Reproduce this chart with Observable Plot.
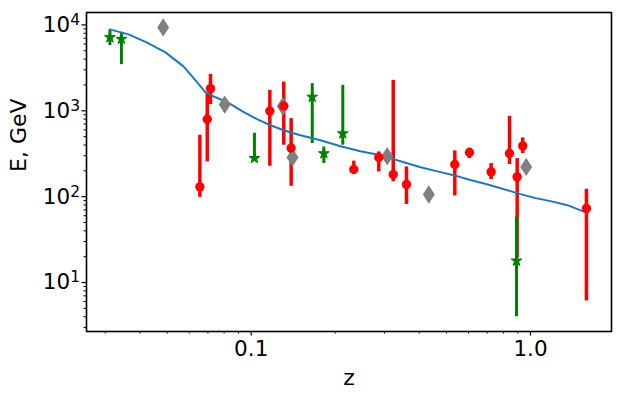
<!DOCTYPE html>
<html>
<head>
<meta charset="utf-8">
<script src="https://cdn.jsdelivr.net/npm/d3@7"></script>
<script src="https://cdn.jsdelivr.net/npm/@observablehq/plot@0.6"></script>
<style>
  html, body { margin: 0; padding: 0; background: white; }
  #chart svg { display: block; }
</style>
</head>
<body>
<div id="chart"></div>
<script>
// Red points (circles) with error bars
const redZ  = [0.0655, 0.0696, 0.0715, 0.1166, 0.1308, 0.139, 0.233, 0.2863, 0.3225, 0.3597, 0.5358, 0.6046, 0.723, 0.841, 0.896, 0.938, 1.586];
const redE  = [130, 796, 1811, 995, 1138, 369, 207, 286, 181, 139, 237, 327, 194, 318, 170, 390, 72.9];
const redLo = [98, 254, 1180, 226, 397, 132, 195, 194, 149, 81, 102, 278, 158, 237, 19.3, 318, 6.1];
const redHi = [519, 1583, 2657, 1731, 2162, 811, 259, 332, 2263, 222, 341, 367, 243, 863, 278, 483, 122];

// Green points (stars) with error bars
const greenZ  = [0.0312, 0.0343, 0.1027, 0.1654, 0.182, 0.2128, 0.891];
const greenE  = [7157, 6840, 280, 1447, 318, 543, 17.9];
const greenLo = [5727, 3443, 265, 415, 243, 397, 4.0];
const greenHi = [8630, 8185, 547, 2070, 379, 1980, 58.2];

// Gray points (thin diamonds)
const grayZ = [0.0484, 0.0804, 0.1297, 0.1406, 0.3069, 0.4324, 0.965];
const grayE = [9355, 1180, 1130, 286, 296, 106, 222];

// Model curve
const lineZ = [0.0311, 0.0364, 0.0422, 0.0493, 0.0572, 0.0632, 0.0686, 0.0745, 0.0823, 0.0931, 0.1053, 0.1172, 0.1305, 0.1501, 0.177, 0.2088, 0.2461, 0.2904, 0.3424, 0.404, 0.4762, 0.53, 0.6096, 0.719, 0.848, 0.921, 1.042, 1.179, 1.357, 1.6];
const lineE = [8866, 7755, 6258, 4786, 3291, 2263, 1641, 1436, 1256, 986, 796, 678, 593, 519, 454, 386, 338, 304, 259, 220, 193, 178, 156, 136, 116, 107, 96.1, 88.7, 79.6, 64.3];

// Axis ticks
const xTickValues = [0.1, 1];
const xTickLabels = ["0.1", "1.0"];
const xMinorTicks = [0.03, 0.04, 0.05, 0.06, 0.07, 0.08, 0.09, 0.2, 0.3, 0.4, 0.5, 0.6, 0.7, 0.8, 0.9];
const yTickValues = [10, 100, 1000, 10000];
const yTickExponents = ["1", "2", "3", "4"];
const yMinorTicks = [3, 4, 5, 6, 7, 8, 9, 20, 30, 40, 50, 60, 70, 80, 90, 200, 300, 400, 500, 600, 700, 800, 900, 2000, 3000, 4000, 5000, 6000, 7000, 8000, 9000];
const xLabel = ["z"];
const yLabel = ["E, GeV"];

const red = redZ.map((z, i) => ({z, e: redE[i], lo: redLo[i], hi: redHi[i]}));
const green = greenZ.map((z, i) => ({z, e: greenE[i], lo: greenLo[i], hi: greenHi[i]}));
const gray = grayZ.map((z, i) => ({z, e: grayE[i]}));
const model = lineZ.map((z, i) => ({z, e: lineE[i]}));

const thinDiamond = {
  draw(ctx, size) {
    const r = Math.sqrt(size / Math.PI);
    ctx.moveTo(0, -r);
    ctx.lineTo(0.65 * r, 0);
    ctx.lineTo(0, r);
    ctx.lineTo(-0.65 * r, 0);
    ctx.closePath();
  }
};

const FS = 21.5;

const chart = Plot.plot({
  width: 623,
  height: 398,
  marginLeft: 86,
  marginRight: 12,
  marginTop: 12,
  marginBottom: 67,
  style: {fontFamily: "DejaVu Sans", fontSize: FS + "px", background: "white", color: "black"},
  x: {type: "log", domain: [0.02572, 1.95]},
  y: {type: "log", domain: [2.69, 13950]},
  marks: [
    Plot.ruleX(red, {x: "z", y1: "lo", y2: "hi", stroke: "#ff0000", strokeWidth: 3.5}),
    Plot.ruleX(green, {x: "z", y1: "lo", y2: "hi", stroke: "#008000", strokeWidth: 3}),
    Plot.line(model, {x: "z", y: "e", stroke: "#1f77b4", strokeWidth: 2}),
    Plot.dot(gray, {x: "z", y: "e", symbol: thinDiamond, r: 9.2, fill: "#808080", stroke: "none"}),
    Plot.dot(red, {x: "z", y: "e", symbol: "circle", r: 4.7, fill: "#ff0000", stroke: "none"}),
    Plot.dot(green, {x: "z", y: "e", symbol: "star", r: 3.4, fill: "#008000", stroke: "#008000", strokeWidth: 1}),
    Plot.frame({stroke: "black", strokeWidth: 1.6}),
    Plot.axisX({ticks: xTickValues, tickSize: 4.5, tickPadding: 5, strokeWidth: 1.2, fontSize: FS,
      tickFormat: d => xTickLabels[xTickValues.indexOf(d)], label: null}),
    Plot.axisX({ticks: xMinorTicks, tickSize: 2.5, strokeWidth: 1, tickFormat: () => "", label: null}),
    Plot.axisY({ticks: yTickValues, tickSize: 4.5, tickPadding: 2, strokeWidth: 1.2, fontSize: FS,
      tickFormat: d => "10^" + yTickExponents[yTickValues.indexOf(d)], label: null}),
    Plot.axisY({ticks: yMinorTicks, tickSize: 2.5, strokeWidth: 1, tickFormat: () => "", label: null}),
    Plot.text(xLabel, {text: d => d, frameAnchor: "bottom", dy: 46, lineAnchor: "middle", fontSize: 22, fill: "black"}),
    Plot.text(yLabel, {text: d => d, frameAnchor: "left", dx: -68, rotate: -90, lineAnchor: "middle", fontSize: 22, fill: "black"})
  ]
});

document.getElementById("chart").appendChild(chart);

// Render "10^n" tick labels with a raised, smaller exponent
chart.querySelectorAll("text").forEach(t => {
  const s = t.textContent;
  const m = /^10\^(\d)$/.exec(s);
  if (m && t.children.length === 0) {
    t.textContent = "10";
    const sup = document.createElementNS("http://www.w3.org/2000/svg", "tspan");
    sup.setAttribute("font-size", "15.5px");
    sup.setAttribute("dy", "-7");
    sup.textContent = m[1];
    t.appendChild(sup);
  }
});
</script>
</body>
</html>
